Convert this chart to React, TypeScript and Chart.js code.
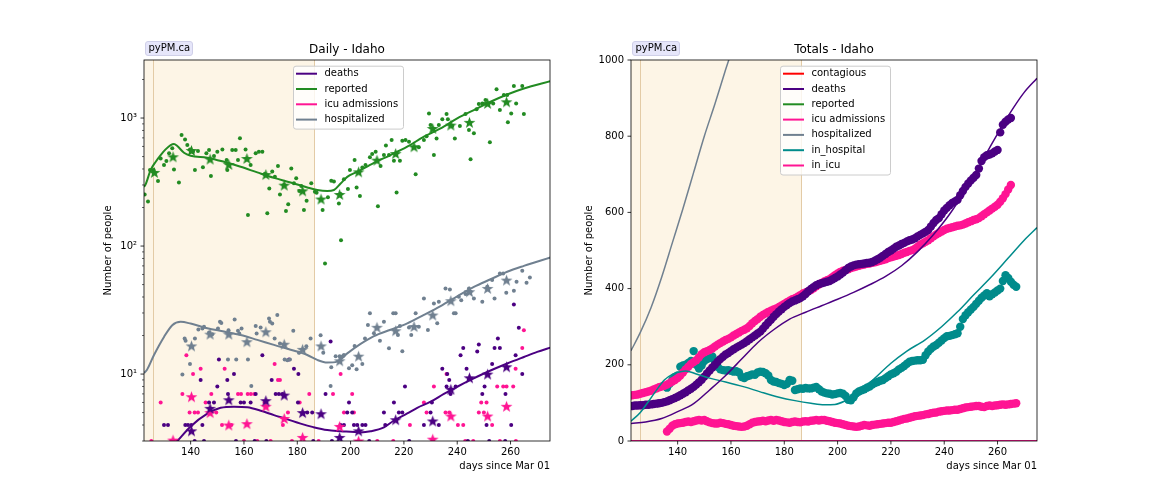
import React, { useEffect, useRef } from 'react';
import { Chart, registerables } from 'chart.js';

Chart.register(...registerables);

const INDIGO = '#4b0082';
const GREEN = '#228b22';
const PINK = '#ff1493';
const GRAY = '#708090';
const TEAL = '#008b8b';
const RED = '#ff0000';

const X_MIN = 122.5;
const X_MAX = 274.8;
const SHADE_START = 125.7;
const SHADE_END = 186.4;
const X_TICKS = [140, 160, 180, 200, 220, 240, 260];
const LOG_MAJOR = [10, 100, 1000];
const LOG_MINOR = [3, 4, 5, 6, 7, 8, 9, 20, 30, 40, 50, 60, 70, 80, 90, 200, 300, 400, 500, 600, 700, 800, 900, 2000];
const LOG_LABELS: Record<number, string> = { 10: '10\u00b9', 100: '10\u00b2', 1000: '10\u00b3' };
const LIN_TICKS = [0, 200, 400, 600, 800, 1000];

// ---------- Daily chart data ----------
const reportedModel = [[122.5,290],[123.1,303],[125,393],[126.9,456],[128.75,514],[130.6,569],[132.5,615],[133.75,627],[135,604],[137.5,536],[140,508],[146.25,490],[152.5,455],[158.75,416],[165,376],[171.25,341],[177.5,314],[183.75,287],[187.5,274],[191.25,269],[193.75,274],[196.25,308],[198.75,347],[202.5,380],[208.75,447],[215,514],[221.25,597],[227.5,715],[233.75,829],[240,993],[246.25,1154],[252.5,1340],[258.75,1528],[265,1702],[275,1945]];
const hospModel = [[122.5,10.2],[123.5,10.7],[126.25,14.1],[130,19.5],[133.1,24.1],[136.25,25.6],[140,24.8],[146.25,22.8],[152.5,21.5],[158.75,20.2],[165,18.5],[171.25,16.9],[177.5,15.5],[183.75,14.1],[187.5,12.9],[191.25,12.3],[195,12.5],[198.75,14.5],[203.75,17.2],[208.75,19.8],[215,22.2],[221.25,24.9],[227.5,29],[233.75,34],[240,40.5],[246.25,48],[252.5,55],[258.75,63],[265,70],[275,81.5]];
const deathsModel = [[122.5,1.5],[128,2.1],[135,3.0],[140,3.9],[146.25,4.9],[151.25,5.45],[156.25,5.56],[161.25,5.5],[166,5.2],[171.25,4.78],[176,4.45],[181.25,4.1],[186,3.85],[191.25,3.65],[196.25,3.58],[203.75,3.5],[207.5,3.57],[212.5,3.83],[216,4.3],[221.25,4.93],[225,5.45],[230,6.08],[235,7.0],[240,7.96],[245,9.0],[250,10.1],[254,11.0],[258.75,12.1],[265,13.6],[270,14.9],[275,16.1]];

const reportedDaily = [[122.75,253],[124,223],[124.75,393],[126,393],[127.75,322],[128.75,484],[130,430],[130.9,461],[131.9,530],[133.1,580],[133.75,397],[135.6,314],[136.6,736],[137.9,681],[138.75,615],[139.75,569],[140.9,546],[141.6,393],[142.75,552],[144.6,412],[145.9,530],[146.9,562],[147.6,352],[148.75,505],[150,546],[151.9,569],[153.5,470],[153.75,393],[155.6,562],[156.9,562],[157.75,470],[158.5,694],[160.6,569],[161.5,175],[162.5,430],[164.4,530],[165.6,546],[166.9,546],[167.75,365],[168.75,180],[169.5,282],[170.6,383],[171.6,348],[172.75,422],[173.5,253],[175,300],[175.75,188],[176.6,212],[177.75,404],[178.75,309],[179.6,338],[180.75,269],[181.5,294],[182.5,191],[183.5,226],[185.25,309],[186.6,266],[187.25,261],[189.5,191],[190.4,73],[191.5,240],[192.75,324],[193.75,320],[195.6,215],[196.25,255],[196.4,111],[197.5,332],[199,279],[199.75,393],[201.5,470],[202.25,287],[203.5,246],[204.4,411],[205.6,429],[207.25,493],[208.1,523],[209.4,546],[210.25,205],[211.25,422],[212.5,514],[213.25,611],[214.4,514],[215.4,673],[216.25,464],[217.25,262],[218.5,464],[219.4,665],[220.6,673],[221.9,653],[224.4,363],[225.6,590],[227.5,673],[228.5,722],[229.4,1086],[230,881],[231.25,514],[232.25,693],[233.1,881],[234.4,977],[236,1075],[236.5,977],[238.1,865],[239.1,693],[241,865],[243.1,1075],[244.4,805],[245,476],[246.25,759],[247.25,1169],[248.1,1286],[249.4,1301],[250.6,1381],[252.25,646],[253.5,1301],[254.75,1675],[256,1154],[257.5,1513],[258.75,1513],[259,925],[260.25,1086],[261.25,1778],[262.1,1301],[264.4,1778],[265,1075]];

const hospDaily = [[136.9,9.9],[137.75,19],[138.1,18.2],[139.75,12],[141.6,19],[142.9,22.3],[144.4,22.7],[145,23.4],[146.9,21.1],[148.1,20.5],[150.25,22.7],[151,25.6],[151.5,25.1],[154,13],[154.2,22],[156.5,26.7],[157.1,13],[157.75,21.8],[158.25,20.7],[159.1,22.7],[161.5,13],[162.75,8.05],[164.4,23.7],[164.75,20.7],[166.25,23.1],[169.4,27.2],[169.75,25.6],[170.6,24.8],[171.5,19],[172.5,28.9],[173.5,17.3],[175.25,13],[176.25,12.8],[177.25,13],[178.5,21.8],[180.6,14.7],[183.4,16.5],[185,19],[188.75,20.1],[189.75,14.7],[192.5,8.05],[192.75,11.3],[194.4,13.8],[195.9,13.8],[196.25,13.6],[197.1,13.8],[197.5,14.1],[199.4,11.1],[200.6,11.7],[201.5,16.6],[202.25,10.9],[204.4,12],[205.4,19],[206.5,24.2],[207.25,29.8],[208.75,20.8],[211,18.2],[212.5,25.6],[214.4,15.9],[216,29.8],[216.9,29.8],[217.75,20.2],[218.5,23.7],[219.4,15.1],[221.9,23.1],[222.75,20.2],[224.4,29.8],[225.6,23.4],[227.5,39],[229,22.1],[231.25,35.6],[232.5,24.9],[233.1,36.7],[235.6,46.7],[237.25,45.8],[238.75,29.8],[239.4,29.8],[240.6,40.2],[241.5,37.8],[243.1,42.2],[244.4,46.7],[245,44],[246.25,39],[249.4,36.7],[251.25,48.1],[253.1,54.2],[254,39],[256,61.1],[257.25,61.1],[258.4,43.2],[261.25,44.8],[262.25,52.6],[264.4,64.1],[266,51.7],[267.25,56.9]];

const deathsDaily = [[130,4],[131.5,4],[138,4],[139,4],[140.25,4],[141.5,3],[143.75,9],[144.4,4],[145,3],[146.9,6],[148.75,6],[150,8],[150.6,13],[153.75,9],[154,7],[156.25,10],[157,3],[158.75,6],[160,6],[162.5,6],[164.4,7],[164,3],[166.9,14],[168.4,3],[170.4,9],[171.9,7],[173.1,7],[174.4,7],[176.9,13],[178.75,11],[180.4,10],[180.25,6],[183.75,5],[185.6,5],[186,3],[190.6,7],[192.5,18],[193,3],[196.25,4],[197.5,4],[198.75,5],[199.4,6],[200.6,5],[201.25,4],[202.5,4],[204.4,4],[205.6,4],[207,3],[212.5,5],[213,4],[216.25,6],[218.1,5],[219.4,5],[220.4,8],[222,3],[227.5,4],[230,5],[230.5,6],[233.1,4],[234.4,11],[236,8],[236.25,10],[237,9],[237.5,7],[239.4,8],[241.25,14],[242.25,16],[243.5,11],[244,3],[247.5,15],[248.1,17],[249.4,7],[250.25,8],[251,4],[252,3],[253.1,12],[254,16],[255.25,19],[256,16],[258,3],[258.1,7],[260.25,4],[261.25,35],[261.9,14],[263.1,23],[264.4,10]];

const icuDaily = [[125.25,3],[128.75,6],[132.75,3],[135,3],[136.9,7],[138.4,14],[139.6,5],[140.9,10],[141.5,5],[142.75,5],[143.75,11],[145.6,6],[147.75,7],[149.6,5],[151.75,4],[152.75,11],[155.25,4],[157.75,7],[158.9,7],[160,3],[161.4,7],[162.6,7],[163.9,7],[165,3],[167.75,6],[170,3],[171.5,12],[172.75,9],[173.5,9],[174.6,4],[176.5,5],[178,3],[180.9,6],[184.5,7],[188,3],[193.4,7],[196.25,10],[197.5,5],[200.6,7],[201.25,5],[210,3],[216,3],[222.25,4],[227.5,6],[228.5,5],[231.25,8],[235.6,5],[236,10],[237,5],[240.25,4],[242.25,4],[243,3],[246,3],[248.1,5],[249,6],[250,5],[251,6],[253.1,4],[255,8],[256,3],[257.25,8],[258.5,8],[261,8],[261.9,11],[262,3],[264.4,16],[265,22]];

const starDays = [126.4, 133.4, 140.3, 147.3, 154.3, 161.1, 168.2, 175.1, 182, 188.9, 195.9, 203, 209.9, 216.9, 223.8, 230.8, 237.6, 244.6, 251.4, 258.5];
const reportedStars = [376, 498, 558, 478, 434, 483, 362, 299, 270, 233, 253, 380, 469, 528, 597, 829, 881, 925, 1301, 1340];
const hospStars = [null, null, 16.6, 20.5, 20.5, 17.9, 21.4, 17.1, 15.6, 16.6, 12.7, 13.8, 23.2, 21.8, 23.5, 28.9, 37.4, 44, 46.7, 54.2];
const deathStars = [null, null, 3.6, 5.4, 6.3, null, 6.2, 6.85, 5.0, 4.9, 3.2, 3.6, null, 4.4, null, 4.3, 7.6, 9.35, 10, 11.4];
const icuStars = [null, 3.05, 6.65, 5.0, 4.0, 4.1, 5.6, 4.5, 3.2, null, 3.9, 3.0, null, null, null, 3.1, 4.7, null, 4.7, 5.6];

// ---------- Totals chart data ----------
const cumStart = 122;
const cumDeaths = [92,92,93,93,94,94,95,95,96,97,98,99,100,102,104,107,110,113,116,120,124,128,133,137,142,148,154,161,169,177,185,193,200,208,215,221,227,231,236,241,245,249,253,257,262,267,272,277,282,287,295,303,311,318,326,333,340,346,352,357,362,366,369,372,375,380,386,393,399,404,409,412,414,416,418,420,424,428,432,437,442,448,454,458,461,463,464,465,466,467,468,470,473,477,481,486,491,496,500,505,510,513,517,520,524,527,529,532,537,541,545,549,554,563,572,580,585,595,605,612,619,625,629,633,645,656,667,676,684,691,698,715,735,745,750,752,755,760,764,810,830,838,844,848];
const cumIcu = [119,120,121,122,124,126,128,130,132,135,138,141,143,145,148,152,156,160,165,172,180,188,195,202,207,212,220,228,233,236,239,243,248,253,257,261,265,268,272,277,281,285,289,292,296,302,309,315,320,326,331,335,339,342,345,348,352,356,360,364,368,372,375,379,383,387,390,393,396,401,406,411,415,419,422,425,430,435,440,444,447,449,451,454,456,458,460,462,463,465,466,468,469,471,473,475,477,480,482,484,486,488,491,494,496,499,501,505,510,515,519,523,527,532,537,542,546,550,554,557,559,561,563,565,566,568,571,574,577,580,582,585,590,595,600,605,610,615,620,628,637,648,660,672];
const hospStart = 136;
const inHosp = [140,150,160,168,172,195,198,200,205,210,236,200,190,198,210,215,218,222,210,195,188,186,185,186,184,182,183,180,168,165,170,172,175,174,180,182,181,178,172,160,156,155,152,150,147,150,160,158,134,136,138,137,139,138,138,140,142,136,130,127,125,124,122,123,125,126,124,118,108,107,115,125,130,133,136,140,143,148,152,155,158,160,165,170,175,178,182,188,192,197,203,208,210,211,212,212,213,225,235,242,248,252,258,264,270,275,276,278,280,283,300,320,330,338,345,352,360,368,376,382,388,380,385,390,395,400,420,435,428,418,410,405];
const inIcu = [25,32,40,44,46,47,48,50,51,50,52,54,55,54,55,52,49,47,46,46,48,47,45,44,42,40,39,38,37,38,40,44,48,50,51,52,53,52,54,55,53,55,54,52,50,49,48,50,51,50,49,51,52,51,53,54,55,54,55,55,53,52,50,48,47,46,44,42,40,39,38,37,38,40,42,41,40,42,43,44,45,46,47,48,48,50,52,54,56,58,59,61,63,65,66,67,68,70,71,73,74,75,77,78,79,80,80,81,82,82,84,86,88,89,90,91,92,92,90,89,92,93,92,93,94,95,96,95,96,97,98,99];

const deathsTotalModel = [[122.5,46],[128,50],[134,59],[140,77],[146,98],[152,134],[158,172],[164,215],[170,258],[176,292],[182,320],[188,338],[194,355],[200,372],[206,390],[212,410],[218,432],[224,460],[230,497],[236,542],[242,595],[248,660],[254,732],[258,782],[262,830],[266,875],[270,915],[274.8,952]];
const inHospModel = [[122.5,52],[126,75],[129,103],[132,133],[135,160],[138,175],[141,182],[143,184],[147,176],[152,165],[158,155],[165,142],[171,129],[178,115],[184,106],[190,99],[195,95],[199,96],[203,106],[207.7,125],[214,165],[220,204],[226,236],[232.7,265],[239,300],[245,339],[251,383],[257.7,431],[264,480],[270,527],[274.8,560]];
const hospTotalModel = [[122.5,237],[126,285],[130,350],[134,430],[138,520],[142,610],[146,705],[150,800],[154,885],[158,975],[162,1060],[170,1220]];
const icuTotalModel = [[122.5,0],[274.8,0]];

const dailyLegend = [
  { label: 'deaths', color: INDIGO },
  { label: 'reported', color: GREEN },
  { label: 'icu admissions', color: PINK },
  { label: 'hospitalized', color: GRAY },
];
const totalLegend = [
  { label: 'contagious', color: RED },
  { label: 'deaths', color: INDIGO },
  { label: 'reported', color: GREEN },
  { label: 'icu admissions', color: PINK },
  { label: 'hospitalized', color: GRAY },
  { label: 'in_hospital', color: TEAL },
  { label: 'in_icu', color: PINK },
];

Chart.defaults.font.family = "'DejaVu Sans', sans-serif";
Chart.defaults.font.size = 10;
Chart.defaults.color = '#000';

const FONT = "'DejaVu Sans', sans-serif";

function starImage(color: string): HTMLCanvasElement {
  const size = 15;
  const c = document.createElement('canvas');
  c.width = size;
  c.height = size;
  const g = c.getContext('2d')!;
  g.fillStyle = color;
  g.beginPath();
  const cx = size / 2, cy = size / 2 + 0.6, R = 6.2, r = 2.5;
  for (let i = 0; i < 10; i++) {
    const ang = -Math.PI / 2 + (i * Math.PI) / 5;
    const rad = i % 2 === 0 ? R : r;
    const px = cx + rad * Math.cos(ang), py = cy + rad * Math.sin(ang);
    if (i === 0) g.moveTo(px, py); else g.lineTo(px, py);
  }
  g.closePath();
  g.fill();
  return c;
}

const pts = (arr: number[][]) => arr.map(([x, y]) => ({ x, y }));
const seq = (start: number, vals: number[]) => vals.map((y, i) => ({ x: start + i, y }));

function dots(data: any[], color: string, radius: number, order = 3) {
  return { data, backgroundColor: color, borderColor: color, pointRadius: radius, pointBorderWidth: 0, pointHoverRadius: radius, showLine: false, order, clip: 0 };
}
function stars(vals: (number | null)[], color: string) {
  const data = starDays.map((d, i) => ({ x: d, y: vals[i] })).filter((p) => p.y != null);
  return { data, pointStyle: starImage(color), pointRadius: 6, showLine: false, order: 1, clip: 0, backgroundColor: color, borderColor: color };
}
function line(arr: number[][], color: string, width: number, order = 2) {
  return { data: pts(arr), borderColor: color, backgroundColor: color, borderWidth: width, pointRadius: 0, pointHoverRadius: 0, showLine: true, cubicInterpolationMode: 'monotone', fill: false, order, clip: 0 };
}

function roundRect(ctx: CanvasRenderingContext2D, x: number, y: number, w: number, h: number, r: number) {
  ctx.beginPath();
  ctx.moveTo(x + r, y);
  ctx.lineTo(x + w - r, y);
  ctx.quadraticCurveTo(x + w, y, x + w, y + r);
  ctx.lineTo(x + w, y + h - r);
  ctx.quadraticCurveTo(x + w, y + h, x + w - r, y + h);
  ctx.lineTo(x + r, y + h);
  ctx.quadraticCurveTo(x, y + h, x, y + h - r);
  ctx.lineTo(x, y + r);
  ctx.quadraticCurveTo(x, y, x + r, y);
  ctx.closePath();
}

function makeDecor(title: string, legend: { label: string; color: string }[], log: boolean) {
  return {
    id: 'decor',
    beforeDatasetsDraw(chart: any) {
      const { ctx, chartArea: a, scales } = chart;
      const x = scales.x;
      ctx.save();
      const x1 = x.getPixelForValue(SHADE_END);
      ctx.fillStyle = '#fdf5e6';
      ctx.fillRect(a.left, a.top, x1 - a.left, a.bottom - a.top);
      ctx.strokeStyle = '#e3cba6';
      ctx.lineWidth = 1;
      [SHADE_START, SHADE_END].forEach((d) => {
        const px = Math.round(x.getPixelForValue(d)) + 0.5;
        ctx.beginPath();
        ctx.moveTo(px, a.top);
        ctx.lineTo(px, a.bottom);
        ctx.stroke();
      });
      ctx.restore();
    },
    afterDraw(chart: any) {
      const { ctx, chartArea: a, scales } = chart;
      const x = scales.x, y = scales.y;
      ctx.save();
      ctx.strokeStyle = '#000';
      ctx.lineWidth = 0.8;
      ctx.strokeRect(a.left, a.top, a.right - a.left, a.bottom - a.top);
      ctx.beginPath();
      X_TICKS.forEach((v) => {
        const px = x.getPixelForValue(v);
        ctx.moveTo(px, a.bottom);
        ctx.lineTo(px, a.bottom + 3.5);
      });
      const majors = log ? LOG_MAJOR : LIN_TICKS;
      majors.forEach((v) => {
        const py = y.getPixelForValue(v);
        ctx.moveTo(a.left, py);
        ctx.lineTo(a.left - 3.5, py);
      });
      ctx.stroke();
      if (log) {
        ctx.lineWidth = 0.6;
        ctx.beginPath();
        LOG_MINOR.forEach((v) => {
          const py = y.getPixelForValue(v);
          ctx.moveTo(a.left, py);
          ctx.lineTo(a.left - 2, py);
        });
        ctx.stroke();
      }
      ctx.fillStyle = '#000';
      ctx.font = `12px ${FONT}`;
      ctx.textAlign = 'center';
      ctx.textBaseline = 'middle';
      ctx.fillText(title, (a.left + a.right) / 2, a.top - 10);
      ctx.fillStyle = '#e6e6fa';
      ctx.strokeStyle = '#cfcfe8';
      ctx.lineWidth = 1;
      roundRect(ctx, a.left + 1.5, a.top - 18.5, 47, 14, 2.5);
      ctx.fill();
      ctx.stroke();
      ctx.fillStyle = '#000';
      ctx.font = `10px ${FONT}`;
      ctx.textAlign = 'left';
      ctx.fillText('pyPM.ca', a.left + 4.5, a.top - 11.3);
      const bw = 110;
      const bx = (a.left + a.right) / 2 - bw / 2 + 1;
      const by = a.top + 5.7;
      const bh = 8 + 15.3 * (legend.length - 1) + 9;
      ctx.fillStyle = 'rgba(255,255,255,0.8)';
      ctx.strokeStyle = '#cccccc';
      ctx.lineWidth = 1;
      roundRect(ctx, bx + 0.5, by + 0.5, bw, bh, 2.5);
      ctx.fill();
      ctx.stroke();
      legend.forEach((item, i) => {
        const ry = by + 8 + 15.3 * i;
        ctx.strokeStyle = item.color;
        ctx.lineWidth = 2;
        ctx.beginPath();
        ctx.moveTo(bx + 3, ry);
        ctx.lineTo(bx + 24, ry);
        ctx.stroke();
        ctx.fillStyle = '#000';
        ctx.font = `10px ${FONT}`;
        ctx.textAlign = 'left';
        ctx.textBaseline = 'middle';
        ctx.fillText(item.label, bx + 31.5, ry);
      });
      ctx.restore();
    },
  };
}

function xScale() {
  return {
    type: 'linear',
    min: X_MIN,
    max: X_MAX,
    grid: { display: false, drawTicks: false },
    border: { display: false },
    ticks: { padding: 5, color: '#000', font: { size: 10 }, autoSkip: false, maxRotation: 0, callback: (v: any) => String(v) },
    afterBuildTicks: (s: any) => { s.ticks = X_TICKS.map((v) => ({ value: v })); },
    afterFit: (s: any) => { s.height = 63; },
    title: { display: true, text: 'days since Mar 01', align: 'end', color: '#000', font: { size: 10 }, padding: { top: 0, bottom: 32 } },
  };
}

export default function App() {
  const leftRef = useRef<HTMLCanvasElement>(null);
  const rightRef = useRef<HTMLCanvasElement>(null);

  useEffect(() => {
    document.body.style.margin = '0';
    const left = new Chart(leftRef.current!, {
      type: 'scatter',
      data: {
        datasets: [
          stars(reportedStars, GREEN),
          stars(hospStars, GRAY),
          stars(deathStars, INDIGO),
          stars(icuStars, PINK),
          line(reportedModel, GREEN, 2),
          line(hospModel, GRAY, 2),
          line(deathsModel, INDIGO, 2),
          dots(pts(reportedDaily), GREEN, 2),
          dots(pts(hospDaily), GRAY, 2),
          dots(pts(deathsDaily), INDIGO, 2),
          dots(pts(icuDaily), PINK, 2),
        ] as any,
      },
      options: {
        animation: false,
        responsive: false,
        maintainAspectRatio: false,
        events: [],
        layout: { padding: { left: 0, right: 26, top: 60, bottom: 0 } },
        plugins: { legend: { display: false }, tooltip: { enabled: false }, title: { display: false } },
        scales: {
          x: xScale() as any,
          y: {
            type: 'logarithmic',
            min: 3,
            max: 2840,
            grid: { display: false, drawTicks: false },
            border: { display: false },
            ticks: { padding: 7, color: '#000', autoSkip: false, font: { size: 10 }, callback: (v: any) => LOG_LABELS[Number(v)] || '' },
            afterBuildTicks: (s: any) => { s.ticks = LOG_MAJOR.map((v) => ({ value: v })); },
            afterFit: (s: any) => { s.width = 144; },
            title: { display: true, text: 'Number of people', color: '#000', font: { size: 10 }, padding: { top: 102, bottom: 0 } },
          } as any,
        },
      },
      plugins: [makeDecor('Daily - Idaho', dailyLegend, true) as any],
    });

    const right = new Chart(rightRef.current!, {
      type: 'scatter',
      data: {
        datasets: [
          line(icuTotalModel, PINK, 2, 1),
          line(icuTotalModel, RED, 2, 1),
          line(hospTotalModel, GRAY, 1.5, 1),
          line(deathsTotalModel, INDIGO, 1.5, 1),
          line(inHospModel, TEAL, 1.5, 1),
          dots(seq(cumStart, cumDeaths), INDIGO, 4.2, 3),
          dots(seq(cumStart, cumIcu), PINK, 4.2, 3),
          dots(seq(hospStart, inHosp), TEAL, 4.2, 3),
          dots(seq(hospStart, inIcu), PINK, 4.2, 3),
        ] as any,
      },
      options: {
        animation: false,
        responsive: false,
        maintainAspectRatio: false,
        events: [],
        layout: { padding: { left: 0, right: 115, top: 60, bottom: 0 } },
        plugins: { legend: { display: false }, tooltip: { enabled: false }, title: { display: false } },
        scales: {
          x: xScale() as any,
          y: {
            type: 'linear',
            min: 0,
            max: 1000,
            grid: { display: false, drawTicks: false },
            border: { display: false },
            ticks: { padding: 7, color: '#000', autoSkip: false, font: { size: 10 }, callback: (v: any) => String(v) },
            afterBuildTicks: (s: any) => { s.ticks = LIN_TICKS.map((v) => ({ value: v })); },
            afterFit: (s: any) => { s.width = 55; },
            title: { display: true, text: 'Number of people', color: '#000', font: { size: 10 }, padding: { top: 7, bottom: 0 } },
          } as any,
        },
      },
      plugins: [makeDecor('Totals - Idaho', totalLegend, false) as any],
    });

    return () => {
      left.destroy();
      right.destroy();
    };
  }, []);

  return (
    <div style={{ position: 'absolute', left: 0, top: 0, width: 1152, height: 504, background: '#fff' }}>
      <canvas ref={leftRef} width={576} height={504} style={{ position: 'absolute', left: 0, top: 0, width: 576, height: 504 }} />
      <canvas ref={rightRef} width={576} height={504} style={{ position: 'absolute', left: 576, top: 0, width: 576, height: 504 }} />
    </div>
  );
}
